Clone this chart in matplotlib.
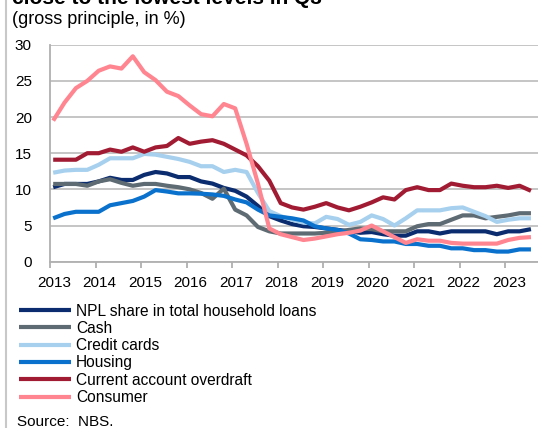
import numpy as np
import matplotlib.pyplot as plt
from matplotlib.lines import Line2D
from matplotlib.transforms import ScaledTranslation

plt.rcParams['font.family'] = ['Liberation Sans', 'DejaVu Sans']

# quarterly data, 2013 Q1 - 2023 Q3
npl = [10.3, 10.75, 10.75, 10.75, 11.1, 11.6, 11.3, 11.3, 12.0, 12.4, 12.2, 11.7,
       11.7, 11.1, 10.8, 10.2, 9.8, 9.0, 7.7, 6.3, 5.7, 5.2, 4.9, 4.8,
       4.6, 4.4, 4.2, 4.0, 4.1, 3.8, 3.6, 3.6, 4.2, 4.2, 3.9, 4.2,
       4.2, 4.2, 4.2, 3.8, 4.2, 4.2, 4.5]
cash = [10.75, 10.75, 10.75, 10.5, 11.1, 11.4, 10.9, 10.5, 10.75, 10.75, 10.5, 10.3,
        10.0, 9.5, 8.7, 10.1, 7.2, 6.4, 4.8, 4.2, 3.9, 3.9, 3.9, 3.9,
        4.0, 4.15, 4.4, 4.6, 4.5, 4.2, 4.2, 4.2, 4.9, 5.2, 5.2, 5.8,
        6.4, 6.4, 6.0, 6.2, 6.4, 6.7, 6.7]
credit_cards = [12.3, 12.6, 12.7, 12.7, 13.4, 14.3, 14.3, 14.3, 14.9, 14.8, 14.5, 14.2,
                13.8, 13.2, 13.2, 12.4, 12.7, 12.4, 9.5, 7.0, 6.3, 5.8, 5.4, 5.3,
                6.2, 5.9, 5.1, 5.5, 6.4, 5.9, 5.0, 6.0, 7.1, 7.1, 7.1, 7.4,
                7.5, 6.9, 6.3, 5.5, 5.8, 6.0, 6.0]
housing = [6.0, 6.6, 6.9, 6.9, 6.9, 7.8, 8.1, 8.4, 9.0, 9.9, 9.7, 9.45,
           9.45, 9.4, 9.3, 9.1, 8.6, 8.2, 7.2, 6.4, 6.2, 6.0, 5.7, 4.9,
           4.6, 4.4, 3.9, 3.1, 3.0, 2.8, 2.8, 2.45, 2.45, 2.2, 2.2, 1.85,
           1.85, 1.6, 1.6, 1.4, 1.4, 1.7, 1.7]
overdraft = [14.1, 14.1, 14.1, 15.0, 15.0, 15.5, 15.2, 15.8, 15.2, 15.8, 16.0, 17.1,
             16.3, 16.6, 16.8, 16.3, 15.5, 14.7, 13.2, 11.2, 8.1, 7.5, 7.2, 7.6,
             8.1, 7.5, 7.1, 7.6, 8.2, 8.9, 8.6, 9.9, 10.3, 9.9, 9.9, 10.8,
             10.5, 10.3, 10.3, 10.5, 10.2, 10.5, 9.8]
consumer = [19.5, 22.0, 24.0, 25.0, 26.4, 27.0, 26.7, 28.4, 26.2, 25.1, 23.5, 22.9,
            21.6, 20.4, 20.1, 21.8, 21.2, 16.3, 10.8, 4.6, 3.8, 3.4, 3.0, 3.2,
            3.5, 3.8, 4.0, 4.3, 5.0, 4.2, 3.4, 2.6, 3.1, 2.9, 2.9, 2.6,
            2.5, 2.5, 2.5, 2.5, 3.0, 3.3, 3.4]

labels = ['NPL share in total household loans', 'Cash', 'Credit cards', 'Housing',
          'Current account overdraft', 'Consumer']
colors = ['#0B2C6E', '#5F6B72', '#A6D0EE', '#0A72CC', '#A11C33', '#FF8591']
years = list(range(2013, 2024))

x = 2013.07 + 0.25 * np.arange(len(npl))

fig = plt.figure(figsize=(5.38, 4.28), dpi=100)
ax = fig.add_axes([50 / 538, 166.3 / 428, 488 / 538, 217 / 428])

for series, lab, col in zip([npl, cash, credit_cards, housing, overdraft, consumer], labels, colors):
    ax.plot(x, series, color=col, lw=3, label=lab, solid_capstyle='butt')

ax.set_xlim(2013, 2023.725)
ax.set_ylim(0, 30)
ax.set_yticks(range(0, 31, 5))
ax.set_xticks(years)
ax.set_xticklabels([str(y) for y in years])
ax.grid(axis='y', color='#C0C0C0', lw=1.3)
ax.set_axisbelow(True)
for s in ['top', 'right']:
    ax.spines[s].set_visible(False)
for s in ['left', 'bottom']:
    ax.spines[s].set_color('#B0B0B0')
    ax.spines[s].set_linewidth(1.3)
ax.tick_params(axis='y', length=0, labelsize=11, pad=13)
ax.tick_params(axis='x', length=4, color='#B0B0B0', width=1.3, labelsize=11, pad=6)
# labels sit a little right of the year ticks, as in the original
shift = ScaledTranslation(4 / 100, 0, fig.dpi_scale_trans)
for t in ax.get_xticklabels():
    t.set_transform(t.get_transform() + shift)

fig.legend(loc='upper left', bbox_to_anchor=(19 / 538, 1 - 303.5 / 428), frameon=False,
           fontsize=11.2, handlelength=3.33, handletextpad=0.32, labelspacing=0.15,
           borderaxespad=0, borderpad=0)

fig.text(12 / 538, 1 - 4.5 / 428, 'close to the lowest levels in Q3', fontsize=15,
         fontweight='bold', va='baseline')
fig.text(12 / 538, 1 - 20 / 428, '(gross principle, in %)', fontsize=13, va='center')
fig.text(17 / 538, 1 - 422 / 428, 'Source:  NBS.', fontsize=11, va='center')

fig.add_artist(Line2D([6 / 538, 6 / 538], [0, 1], color='#C8C8C8', lw=1.5))

fig.savefig('out.png', dpi=100)
